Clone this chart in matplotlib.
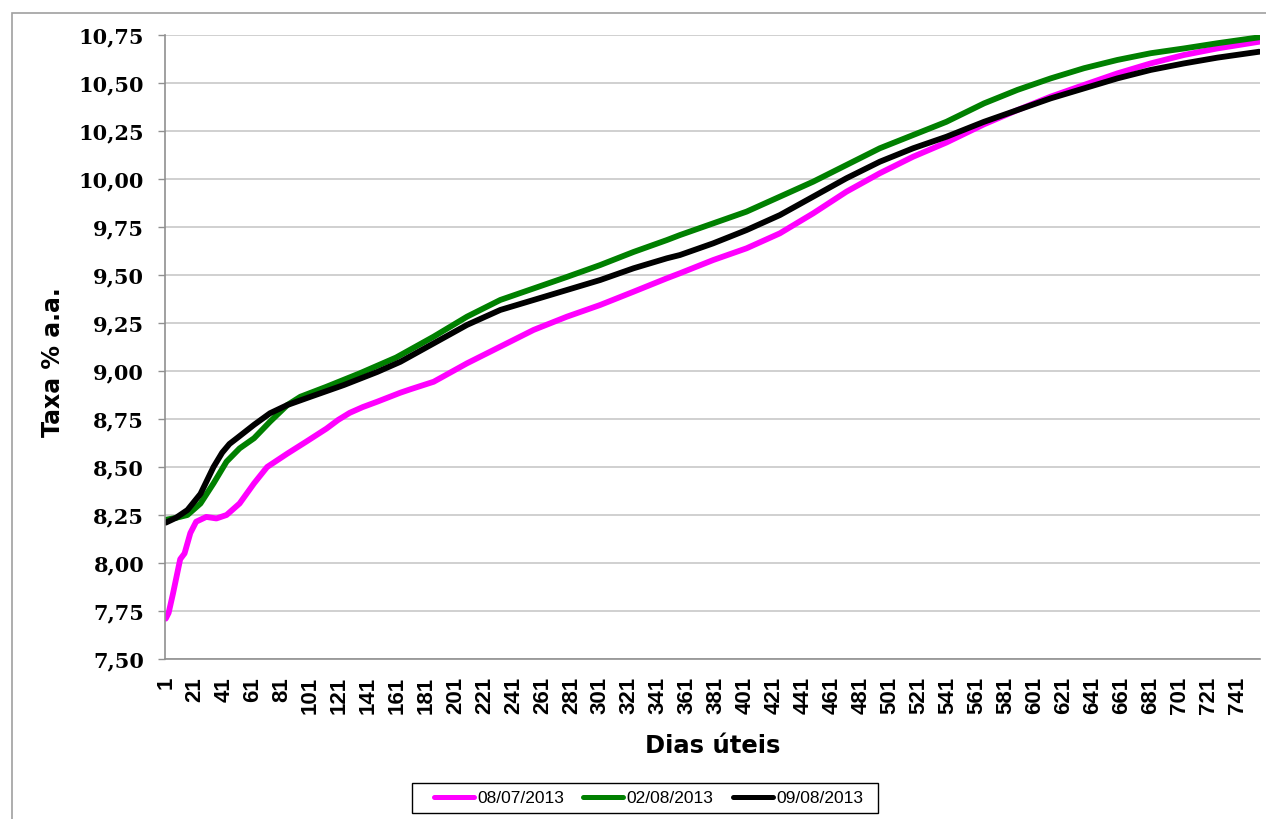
"""Curva de juros (Taxa % a.a. por dias úteis) em três datas."""
import matplotlib
matplotlib.use("Agg")
import matplotlib.pyplot as plt
from matplotlib.patches import Rectangle

# ---- data ----
dias_0807 = [1, 3, 6, 11, 14, 18, 22, 29, 36, 43, 52, 62, 71, 85, 98, 112, 120,
             128, 137, 147, 163, 170, 186, 209, 232, 255, 278, 301, 324, 347,
             356, 379, 402, 425, 448, 471, 494, 517, 540, 566, 589, 612, 635,
             658, 681, 704, 727, 756]
taxa_0807 = [7.71, 7.74, 7.84, 8.02, 8.05, 8.156, 8.215, 8.24, 8.232, 8.25,
             8.31, 8.415, 8.50, 8.57, 8.632, 8.70, 8.745, 8.782, 8.812, 8.84,
             8.887, 8.905, 8.944, 9.04, 9.127, 9.214, 9.283, 9.344, 9.413,
             9.483, 9.509, 9.578, 9.639, 9.717, 9.821, 9.934, 10.03, 10.116,
             10.19, 10.285, 10.359, 10.429, 10.49, 10.55, 10.602, 10.646,
             10.68, 10.715]

dias_0208 = [1, 8, 16, 25, 34, 43, 52, 62, 73, 85, 94, 112, 135, 160, 186, 209,
             232, 255, 278, 301, 324, 347, 356, 379, 402, 425, 448, 471, 494,
             517, 540, 566, 589, 612, 635, 658, 681, 704, 727, 756]
taxa_0208 = [8.225, 8.235, 8.25, 8.31, 8.415, 8.528, 8.597, 8.65, 8.736, 8.823,
             8.866, 8.918, 8.988, 9.07, 9.179, 9.283, 9.37, 9.43, 9.49, 9.552,
             9.62, 9.682, 9.708, 9.769, 9.83, 9.908, 9.986, 10.073, 10.16,
             10.229, 10.298, 10.394, 10.464, 10.524, 10.577, 10.62, 10.655,
             10.68, 10.707, 10.738]

dias_0908 = [1, 8, 16, 25, 34, 40, 45, 51, 62, 73, 85, 101, 124, 147, 163, 186,
             209, 232, 255, 278, 301, 324, 347, 356, 379, 402, 425, 448, 471,
             494, 517, 540, 566, 589, 612, 635, 658, 681, 704, 727, 756]
taxa_0908 = [8.21, 8.235, 8.276, 8.36, 8.50, 8.575, 8.62, 8.655, 8.72, 8.78,
             8.823, 8.866, 8.927, 8.995, 9.048, 9.144, 9.24, 9.318, 9.37,
             9.422, 9.474, 9.535, 9.587, 9.604, 9.665, 9.734, 9.812, 9.908,
             10.004, 10.09, 10.16, 10.22, 10.298, 10.359, 10.42, 10.472,
             10.524, 10.568, 10.602, 10.632, 10.663]

series = [
    ("08/07/2013", dias_0807, taxa_0807, "#ff00ff"),
    ("02/08/2013", dias_0208, taxa_0208, "#008000"),
    ("09/08/2013", dias_0908, taxa_0908, "#000000"),
]
y_ticks = [7.50, 7.75, 8.00, 8.25, 8.50, 8.75, 9.00, 9.25, 9.50, 9.75,
           10.00, 10.25, 10.50, 10.75]
x_ticks = list(range(1, 742, 20))

W, H = 1266, 819
fig = plt.figure(figsize=(W / 100, H / 100), dpi=100)
# outer chart border (runs off the right and bottom edges, as in the original)
fig.patches.append(Rectangle((12 / W, -0.1), 1.2, 1 - 13 / H + 0.1,
                             transform=fig.transFigure, fill=False,
                             edgecolor="#a0a0a0", lw=1.2))

ax = fig.add_axes([165 / W, 1 - 659 / H, 1095 / W, 624 / H])
for name, x, y, c in series:
    ax.plot(x, y, color=c, lw=4.2, label=name, solid_capstyle="round",
            solid_joinstyle="round")

ax.set_xlim(0.5, 756.5)
ax.set_ylim(7.5, 10.75)
ax.set_yticks(y_ticks)
ax.set_yticklabels([f"{v:.2f}".replace(".", ",") for v in y_ticks],
                   fontfamily="DejaVu Serif", fontweight="bold", fontsize=15)
ax.set_xticks(x_ticks)
ax.set_xticklabels([str(v) for v in x_ticks], rotation=90,
                   fontfamily="Liberation Sans", fontweight="bold", fontsize=16)
ax.tick_params(axis="y", length=5, width=1, color="#909090", pad=10)
ax.tick_params(axis="x", length=0, pad=13)
ax.grid(axis="y", color="#c4c4c4", lw=1.1)
ax.set_axisbelow(True)
for s in ("top", "right"):
    ax.spines[s].set_visible(False)
for s in ("left", "bottom"):
    ax.spines[s].set_color("#909090")
    ax.spines[s].set_linewidth(1.2)

fig.text(53 / W, 1 - 362 / H, "Taxa % a.a.", rotation=90, ha="center",
         va="center", fontfamily="DejaVu Sans", fontweight="bold", fontsize=17)
fig.text(712.5 / W, 1 - 753 / H, "Dias úteis", ha="center", va="baseline",
         fontfamily="DejaVu Sans", fontweight="bold", fontsize=17.5)

# legend: contents without frame, box drawn separately to get Excel's padding
leg = fig.legend(loc="center", bbox_to_anchor=(648.5 / W, 1 - 798 / H), ncol=3,
                 prop={"family": "Liberation Sans", "size": 12.5},
                 handlelength=2.3, handletextpad=0.2, columnspacing=1.1,
                 borderpad=0.35, frameon=False)
for h in leg.get_lines():
    h.set_linewidth(3.6)
fig.patches.append(Rectangle((412 / W, 1 - 813 / H), 466 / W, 30 / H,
                             transform=fig.transFigure, fill=False,
                             edgecolor="black", lw=1.0))

fig.savefig("out.png", dpi=100)
